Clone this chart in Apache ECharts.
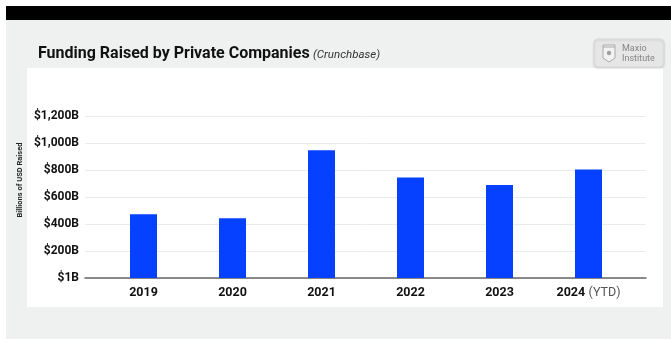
<!DOCTYPE html>
<html>
<head>
<meta charset="utf-8">
<script src="https://cdn.jsdelivr.net/npm/echarts@6/dist/echarts.min.js"></script>
<style>
  html, body { margin: 0; padding: 0; background: #ffffff; }
  #chart { width: 671px; height: 339px; }
</style>
</head>
<body>
<div id="chart"></div>
<script>
// Annual funding raised by private companies, billions of USD
const categories = ['2019', '2020', '2021', '2022', '2023', '2024'];
const categoryNotes = ['', '', '', '', '', '(YTD)'];
const fundingRaised = [472, 442, 946, 745, 688, 803];
const yTickLabels = ['$1B', '$200B', '$400B', '$600B', '$800B', '$1,000B', '$1,200B'];

const FONT = 'Roboto, Inter, "Noto Sans", sans-serif';
const chart = echarts.init(document.getElementById('chart'), null, { renderer: 'canvas' });

const gridTop = 116, gridBottom = 61;

chart.setOption({
  backgroundColor: '#ffffff',
  animation: false,
  graphic: [
    // page frame
    { type: 'rect', z: -10, shape: { x: 6, y: 6, width: 665, height: 14 }, style: { fill: '#000000' } },
    { type: 'rect', z: -10, shape: { x: 6, y: 20, width: 665, height: 319 }, style: { fill: '#eff1f0' } },
    { type: 'rect', z: -9, shape: { x: 27, y: 68, width: 636, height: 239 }, style: { fill: '#ffffff' } },
    // title
    {
      type: 'text', left: 38, top: 46,
      style: {
        text: '{t|Funding Raised by Private Companies} {s|(Crunchbase)}',
        rich: {
          t: { fontFamily: FONT, fontSize: 16, fontWeight: 'bold', fill: '#111111' },
          s: { fontFamily: FONT, fontSize: 11.5, fontStyle: 'italic', fill: '#333333', padding: [2, 0, 0, 0] }
        }
      }
    },
    // badge
    {
      type: 'rect', z: -8,
      shape: { x: 594, y: 39, width: 70, height: 28, r: 4 },
      style: { fill: '#e5e6e5', stroke: '#d8d9d8', lineWidth: 1, shadowColor: 'rgba(0,0,0,0.12)', shadowBlur: 2, shadowOffsetY: 1 }
    },
    {
      type: 'polygon', z: -7,
      shape: { points: [[603, 45], [615, 45], [615, 58], [609, 62], [603, 58]] },
      style: { fill: '#f2f2f2', stroke: '#a9aaa9', lineWidth: 1 }
    },
    { type: 'line', z: -7, shape: { x1: 603, y1: 47, x2: 615, y2: 47 }, style: { stroke: '#a9aaa9', lineWidth: 1 } },
    { type: 'circle', z: -7, shape: { cx: 609, cy: 53, r: 2.2 }, style: { fill: '#a0a1a0' } },
    {
      type: 'text', z: -7, left: 622, top: 44,
      style: { text: 'Maxio\nInstitute', fontFamily: FONT, fontSize: 9, fill: '#858685', lineHeight: 10 }
    },
    // vertical axis title
    {
      type: 'text', x: 20, y: 180, rotation: Math.PI / 2,
      style: { text: 'Billions of USD Raised', fontFamily: FONT, fontSize: 7.5, fontWeight: 'bold', fill: '#222222', align: 'center', verticalAlign: 'middle' }
    }
  ],
  grid: [
    { left: 85, right: 25, top: gridTop, bottom: gridBottom },
    { left: 99, right: 38, top: gridTop, bottom: gridBottom }
  ],
  xAxis: [
    {
      gridIndex: 0, type: 'value', min: 0, max: 1,
      axisLabel: { show: false }, axisTick: { show: false }, splitLine: { show: false },
      axisLine: { show: true, onZero: false, lineStyle: { color: '#666666', width: 1.5 } }
    },
    {
      gridIndex: 1, type: 'category', data: categories,
      axisLine: { show: false }, axisTick: { show: false },
      axisLabel: {
        interval: 0,
        margin: 8,
        formatter: (v, i) => categoryNotes[i] ? '{y|' + v + '} {n|' + categoryNotes[i] + '}' : '{y|' + v + '}',
        rich: {
          y: { fontFamily: FONT, fontSize: 12.5, fontWeight: 'bold', color: '#111111' },
          n: { fontFamily: FONT, fontSize: 12.5, fontWeight: 'normal', color: '#555555' }
        }
      }
    }
  ],
  yAxis: [
    {
      gridIndex: 0, type: 'value', min: 0, max: 1200, interval: 200,
      axisLine: { show: false }, axisTick: { show: false },
      axisLabel: {
        margin: 6,
        formatter: (v) => yTickLabels[Math.round(v / 200)],
        fontFamily: FONT, fontSize: 12, fontWeight: 'bold', color: '#111111'
      },
      splitLine: { lineStyle: { color: '#ebebeb', width: 1 } }
    },
    {
      gridIndex: 1, type: 'value', min: 0, max: 1200, interval: 200,
      show: false, splitLine: { show: false }
    }
  ],
  series: [
    {
      type: 'bar', xAxisIndex: 1, yAxisIndex: 1,
      data: fundingRaised, barWidth: 27,
      itemStyle: { color: '#0541ff' }
    }
  ]
});
</script>
</body>
</html>
